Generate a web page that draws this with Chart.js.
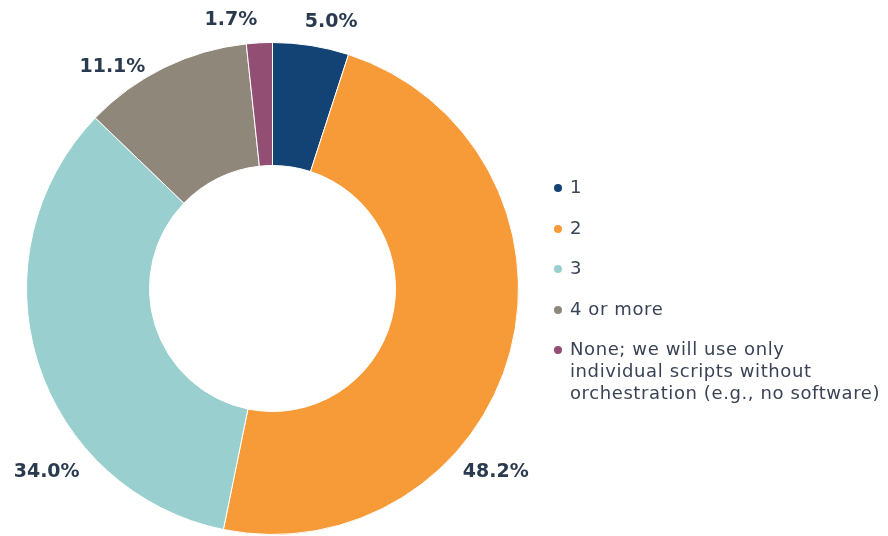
<!DOCTYPE html>
<html>
<head>
<meta charset="utf-8">
<script src="https://cdn.jsdelivr.net/npm/chart.js@4"></script>
<style>
    html, body { margin: 0; padding: 0; background: #fff; }
    #wrap { position: relative; width: 888px; height: 536px; }
    #orchChart { position: absolute; left: 0; top: 0; }
    #legend {
        position: absolute; left: 552px; top: 176px; margin: 0; padding: 0;
        list-style: none; font-family: "DejaVu Sans", sans-serif; font-size: 18px;
        letter-spacing: 0.6px; color: #3a4356; line-height: 22px;
    }
    #legend li { position: relative; padding-left: 18px; margin-bottom: 18.5px; white-space: nowrap; }
    #legend li span.dot {
        position: absolute; left: 2px; top: 8px; width: 8px; height: 8px; border-radius: 50%;
    }
</style>
</head>
<body>
<div id="wrap">
    <canvas id="orchChart" width="888" height="536"></canvas>
    <ul id="legend"></ul>
</div>
<script>
const CATEGORIES = [
    "1",
    "2",
    "3",
    "4 or more",
    ["None; we will use only", "individual scripts without", "orchestration (e.g., no software)"]
];
const SHARES = [5.0, 48.2, 34.0, 11.1, 1.7];
const COLORS = ["#134375", "#f79b38", "#9acfcf", "#8f877a", "#924e73"];

// where each percentage sits: angle clockwise from 12 o'clock, and distance beyond the ring
const LABEL_ANGLES = [12.4, 129.4, -129.1, -35.9, -8.8];
const LABEL_GAPS   = [27, 43, 45, 27, 26];

const percentLabels = {
    id: 'percentLabels',
    afterDatasetsDraw(chart) {
        const ctx = chart.ctx;
        const meta = chart.getDatasetMeta(0);
        ctx.save();
        ctx.font = 'bold 19px "DejaVu Sans", sans-serif';
        ctx.fillStyle = '#2a3a4f';
        ctx.textAlign = 'center';
        ctx.textBaseline = 'middle';
        meta.data.forEach((arc, i) => {
            const a = LABEL_ANGLES[i] * Math.PI / 180;
            const r = arc.outerRadius + LABEL_GAPS[i];
            const x = arc.x + r * Math.sin(a);
            const y = arc.y - r * Math.cos(a);
            ctx.fillText(SHARES[i].toFixed(1) + '%', x, y);
        });
        ctx.restore();
    }
};

const ctx = document.getElementById('orchChart').getContext('2d');

const chart = new Chart(ctx, {
    type: 'doughnut',
    data: {
        labels: CATEGORIES,
        datasets: [{
            data: SHARES,
            backgroundColor: COLORS,
            borderColor: '#ffffff',
            borderWidth: 1
        }]
    },
    options: {
        responsive: false,
        animation: false,
        cutout: '50%',
        layout: { padding: { left: 26, right: 369, top: 42, bottom: 1 } },
        plugins: {
            legend: { display: false },
            tooltip: { enabled: false }
        }
    },
    plugins: [percentLabels]
});

// legend built from the same arrays
const legend = document.getElementById('legend');
CATEGORIES.forEach((cat, i) => {
    const li = document.createElement('li');
    const dot = document.createElement('span');
    dot.className = 'dot';
    dot.style.background = COLORS[i];
    li.appendChild(dot);
    const lines = Array.isArray(cat) ? cat : [cat];
    lines.forEach((line, j) => {
        if (j > 0) li.appendChild(document.createElement('br'));
        li.appendChild(document.createTextNode(line));
    });
    legend.appendChild(li);
});
</script>
</body>
</html>
